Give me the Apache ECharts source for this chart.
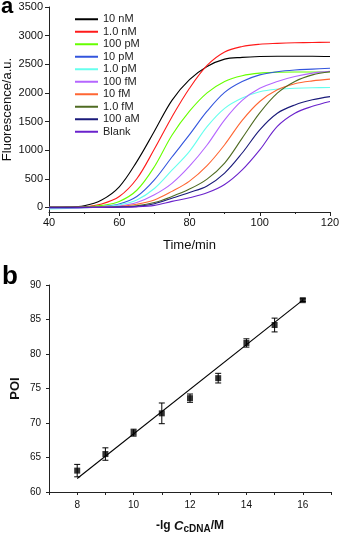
<!DOCTYPE html>
<html>
<head>
<meta charset="utf-8">
<script src="https://cdn.jsdelivr.net/npm/echarts@6/dist/echarts.min.js"></script>
<style>
  html, body { margin: 0; padding: 0; background: #fff; }
  #main { width: 340px; height: 533px; }
</style>
</head>
<body>
<div id="main"></div>
<script>
// panel a: amplification curves
var times = [40, 45, 50, 55, 60, 65, 70, 75, 80, 85, 90, 95, 100, 105, 110, 115, 120];
var names = ['10 nM', '1.0 nM', '100 pM', '10 pM', '1.0 pM', '100 fM', '10 fM', '1.0 fM', '100 aM', 'Blank'];
var colors = ['#000000', '#ff1a1a', '#66ff00', '#3355dd', '#66ffee', '#b566ff', '#ff6633', '#4f6b22', '#1a1a7a', '#6a22cc'];

var v10nM  = [0, 5, 30, 130, 360, 800, 1330, 1870, 2230, 2460, 2590, 2620, 2635, 2640, 2640, 2640, 2635];
var v1nM   = [0, 0, 10, 60, 190, 500, 1020, 1580, 2080, 2480, 2715, 2810, 2850, 2865, 2875, 2880, 2885];
var v100pM = [0, 0, 5, 35, 105, 300, 710, 1260, 1680, 2000, 2200, 2300, 2345, 2360, 2365, 2365, 2365];
var v10pM  = [0, 0, 0, 15, 60, 190, 480, 880, 1270, 1680, 2010, 2200, 2315, 2370, 2400, 2415, 2430];
var v1pM   = [-25, -20, -5, 10, 45, 130, 330, 650, 980, 1410, 1730, 1910, 2020, 2065, 2080, 2090, 2095];
var v100fM = [0, 0, 0, 5, 25, 85, 220, 420, 720, 1090, 1530, 1870, 2080, 2200, 2285, 2345, 2375];
var v10fM  = [0, 0, 0, 5, 15, 55, 130, 280, 460, 730, 1095, 1520, 1850, 2055, 2160, 2210, 2240];
var v1fM   = [0, 0, 0, 0, 10, 30, 85, 190, 320, 495, 775, 1210, 1650, 1995, 2200, 2315, 2370];
var v100aM = [0, 0, 0, 0, 5, 20, 65, 160, 260, 375, 600, 950, 1355, 1645, 1790, 1880, 1935];
var vBlank = [-10, -10, -5, 0, 5, 10, 35, 105, 170, 255, 400, 655, 1005, 1415, 1645, 1765, 1850];
var curves = [v10nM, v1nM, v100pM, v10pM, v1pM, v100fM, v10fM, v1fM, v100aM, vBlank];
var fluoTicks = [0, 500, 1000, 1500, 2000, 2500, 3000, 3500];

// panel b: POI vs -lg C
var conc = [8, 9, 10, 11, 12, 13, 14, 15, 16];
var poi = [63.1, 65.5, 68.6, 71.4, 73.6, 76.5, 81.6, 84.2, 87.8];
var poiErr = [0.9, 0.9, 0.5, 1.5, 0.6, 0.7, 0.6, 1.0, 0.2];
var fitX = [8, 16];
var fitY = [61.95, 87.8];
var concLabels = [8, 10, 12, 14, 16];
var concTicks = [7, 8, 9, 10, 11, 12, 13, 14, 15, 16, 17];

var font = 'Liberation Sans, Arial, sans-serif';
var axisCol = '#222';

var dom = document.getElementById('main');
var myChart = echarts.init(dom, null, { renderer: 'canvas' });

var series = [];
curves.forEach(function (vals, i) {
    series.push({
        name: names[i],
        type: 'line',
        xAxisIndex: 0,
        yAxisIndex: 0,
        smooth: 0.35,
        symbol: 'none',
        lineStyle: { width: 1.1, color: colors[i] },
        itemStyle: { color: colors[i] },
        data: times.map(function (t, j) { return [t, vals[j]]; })
    });
});

// fitted line
series.push({
    type: 'line',
    xAxisIndex: 1,
    yAxisIndex: 1,
    symbol: 'none',
    lineStyle: { width: 1.1, color: '#000' },
    data: fitX.map(function (x, i) { return [x, fitY[i]]; })
});
// error bars
series.push({
    type: 'custom',
    xAxisIndex: 1,
    yAxisIndex: 1,
    renderItem: function (params, api) {
        var x = api.value(0), y = api.value(1), e = api.value(2);
        var top = api.coord([x, y + e]);
        var bot = api.coord([x, y - e]);
        var w = 3;
        var st = { stroke: '#000', lineWidth: 1 };
        return {
            type: 'group',
            children: [
                { type: 'line', shape: { x1: top[0], y1: top[1], x2: bot[0], y2: bot[1] }, style: st },
                { type: 'line', shape: { x1: top[0] - w, y1: top[1], x2: top[0] + w, y2: top[1] }, style: st },
                { type: 'line', shape: { x1: bot[0] - w, y1: bot[1], x2: bot[0] + w, y2: bot[1] }, style: st }
            ]
        };
    },
    data: conc.map(function (x, i) { return [x, poi[i], poiErr[i]]; }),
    z: 3
});
// points
series.push({
    type: 'scatter',
    xAxisIndex: 1,
    yAxisIndex: 1,
    symbol: 'rect',
    symbolSize: 6,
    itemStyle: { color: '#000' },
    data: conc.map(function (x, i) { return [x, poi[i]]; }),
    z: 4
});

option = {
    animation: false,
    textStyle: { fontFamily: font },
    graphic: [
        { type: 'text', left: 1, top: -4, style: { text: 'a', font: 'bold 22px ' + font, fill: '#000' } },
        { type: 'text', left: 2, top: 264, style: { text: 'b', font: 'bold 26px ' + font, fill: '#000' } }
    ],
    legend: {
        orient: 'vertical',
        left: 70,
        top: 8,
        icon: 'rect',
        itemWidth: 23,
        itemHeight: 2,
        itemGap: 0,
        data: names,
        textStyle: { fontSize: 11, color: '#222', fontFamily: font, lineHeight: 12.5 }
    },
    grid: [
        { left: 49, right: 10, top: 7, bottom: 321, outerBoundsMode: 'none' },
        { left: 49, right: 9, top: 285, bottom: 41, outerBoundsMode: 'none' }
    ],
    xAxis: [
        {
            gridIndex: 0,
            type: 'value',
            min: 40, max: 120, interval: 20,
            name: 'Time/min',
            nameLocation: 'middle',
            nameGap: 27,
            nameMoveOverlap: false,
            nameTextStyle: { fontSize: 13, color: '#111' },
            axisLine: { onZero: false, lineStyle: { color: axisCol } },
            axisTick: { inside: false, length: 4, lineStyle: { color: axisCol } },
            minorTick: { show: true, splitNumber: 2, length: 2, lineStyle: { color: axisCol } },
            axisLabel: { fontSize: 11, color: '#111', margin: 5 },
            splitLine: { show: false }
        },
        {
            gridIndex: 1,
            type: 'value',
            min: 7, max: 17,
            name: '{n|-lg }{c|C}{s|cDNA}{n|/M}',
            nameLocation: 'middle',
            nameGap: 26,
            nameMoveOverlap: false,
            nameTextStyle: {
                rich: {
                    n: { fontSize: 12, fontWeight: 'bold', color: '#111', fontFamily: font },
                    c: { fontSize: 13, fontWeight: 'bold', fontStyle: 'italic', color: '#111', fontFamily: font },
                    s: { fontSize: 10, fontWeight: 'bold', color: '#111', fontFamily: font, verticalAlign: 'bottom', padding: [6, 0, 0, 0] }
                }
            },
            axisLine: { onZero: false, lineStyle: { color: axisCol } },
            axisTick: { length: 3, customValues: concTicks, lineStyle: { color: axisCol } },
            axisLabel: { fontSize: 10, color: '#111', margin: 8, customValues: concLabels },
            splitLine: { show: false }
        }
    ],
    yAxis: [
        {
            gridIndex: 0,
            type: 'value',
            min: -80, max: 3500,
            name: 'Fluorescence/a.u.',
            nameLocation: 'middle',
            nameGap: 35,
            nameMoveOverlap: false,
            nameTextStyle: { fontSize: 13, color: '#111' },
            axisLine: { show: true, onZero: false, lineStyle: { color: axisCol } },
            axisTick: { show: true, length: 4, customValues: fluoTicks, lineStyle: { color: axisCol } },
            axisLabel: {
                fontSize: 11, color: '#111', margin: 6, customValues: fluoTicks,
                formatter: function (v) { return String(v); }
            },
            splitLine: { show: false }
        },
        {
            gridIndex: 1,
            type: 'value',
            min: 60, max: 90, interval: 5,
            name: 'POI',
            nameLocation: 'middle',
            nameGap: 27,
            nameMoveOverlap: false,
            nameTextStyle: { fontSize: 13, fontWeight: 'bold', color: '#111' },
            axisLine: { show: true, onZero: false, lineStyle: { color: axisCol } },
            axisTick: { show: true, length: 3, lineStyle: { color: axisCol } },
            axisLabel: { fontSize: 10, color: '#111', margin: 8 },
            splitLine: { show: false }
        }
    ],
    series: series
};

if (option && typeof option === 'object') {
    myChart.setOption(option, true);
}
</script>
</body>
</html>
